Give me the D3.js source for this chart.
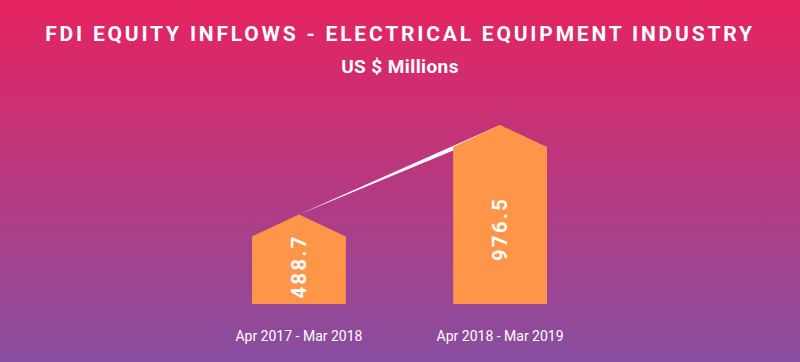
<!DOCTYPE html>
<html>
<head>
<meta charset="utf-8">
<script src="https://cdn.jsdelivr.net/npm/d3@7"></script>
<style>
  body { margin: 0; padding: 0; }
  svg { display: block; font-family: Roboto, "Noto Sans", sans-serif; }
</style>
</head>
<body>
<svg width="800" height="362"></svg>
<script>
// chart data
var periods = ["Apr 2017 - Mar 2018", "Apr 2018 - Mar 2019"];
var inflows = [488.7, 976.5];
var titleText = "FDI EQUITY INFLOWS - ELECTRICAL EQUIPMENT INDUSTRY";
var subtitleText = "US $ Millions";

var svg = d3.select("svg"),
    width = +svg.attr("width"),
    height = +svg.attr("height");

// background gradient pink -> purple
var defs = svg.append("defs");
var grad = defs.append("linearGradient")
    .attr("id", "bg")
    .attr("x1", 0).attr("y1", 0)
    .attr("x2", 0).attr("y2", 1);
grad.append("stop").attr("offset", "0%").attr("stop-color", "#e62360");
grad.append("stop").attr("offset", "100%").attr("stop-color", "#884ea0");

svg.append("rect")
    .attr("width", width)
    .attr("height", height)
    .attr("fill", "url(#bg)");

// scales
var x = d3.scaleBand()
    .domain(periods)
    .range([252, 547])
    .paddingInner(0.5335)
    .paddingOuter(0);

var y = d3.scaleLinear()
    .domain([0, d3.max(inflows)])
    .range([304, 125]);

var roof = 22;

var data = periods.map(function(p, i) { return {period: p, value: inflows[i]}; });

// white tapered line joining the roof tips
var tip = data.map(function(d) { return [x(d.period) + x.bandwidth() / 2, y(d.value)]; });
svg.append("polygon")
    .attr("points", [tip[0], tip[1], [tip[1][0], tip[1][1] + 6]].map(function(p) { return p.join(","); }).join(" "))
    .attr("fill", "#fff");

// house shaped bars
svg.append("g")
  .selectAll("path")
  .data(data)
  .enter().append("path")
    .attr("fill", "#ff9548")
    .attr("d", function(d) {
      var x0 = x(d.period), x1 = x0 + x.bandwidth(), xm = x0 + x.bandwidth() / 2;
      var top = y(d.value), y0 = y(0);
      return "M" + x0 + "," + y0 +
             "L" + x0 + "," + (top + roof) +
             "L" + xm + "," + top +
             "L" + x1 + "," + (top + roof) +
             "L" + x1 + "," + y0 + "Z";
    });

// value labels, rotated
svg.append("g")
  .selectAll("text")
  .data(data)
  .enter().append("text")
    .attr("transform", function(d) {
      var cx = x(d.period) + x.bandwidth() / 2 + 7;
      var cy = y(d.value * 0.42);
      return "translate(" + cx + "," + cy + ") rotate(-90)";
    })
    .attr("text-anchor", "middle")
    .attr("fill", "#fff")
    .attr("font-size", 20)
    .attr("font-weight", "bold")
    .attr("letter-spacing", 2.5)
    .text(function(d) { return d.value.toFixed(1); });

// category axis
var xAxis = svg.append("g")
    .attr("transform", "translate(0,331)")
    .call(d3.axisBottom(x).tickSize(0).tickPadding(0));
xAxis.select(".domain").remove();
xAxis.selectAll("text")
    .attr("fill", "#fff")
    .attr("font-size", 14)
    .attr("font-family", "Roboto, sans-serif")
    .attr("dy", "0.71em");

// titles
svg.append("text")
    .attr("x", width / 2)
    .attr("y", 41)
    .attr("text-anchor", "middle")
    .attr("fill", "#fff")
    .attr("font-size", 21)
    .attr("font-weight", "bold")
    .attr("letter-spacing", 2.8)
    .text(titleText);

svg.append("text")
    .attr("x", width / 2)
    .attr("y", 73)
    .attr("text-anchor", "middle")
    .attr("fill", "#fff")
    .attr("font-size", 19)
    .attr("font-weight", "bold")
    .attr("letter-spacing", 0.4)
    .text(subtitleText);
</script>
</body>
</html>
